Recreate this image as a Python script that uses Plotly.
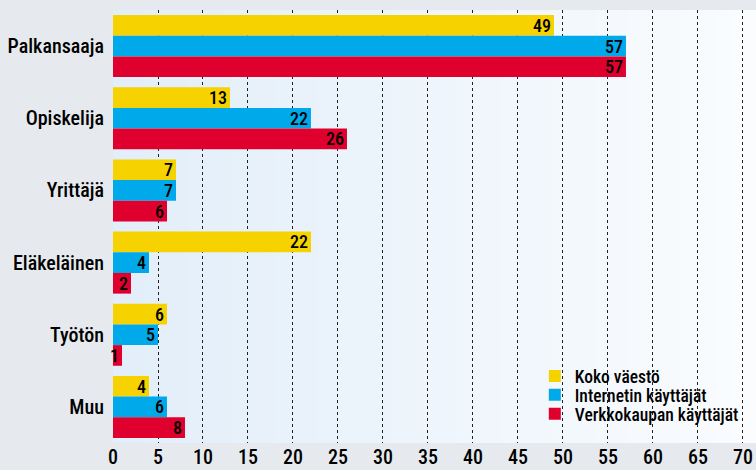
import plotly.graph_objects as go

categories = ["Palkansaaja", "Opiskelija", "Yrittäjä", "Eläkeläinen", "Työtön", "Muu"]
series_names = ["Koko väestö", "Internetin käyttäjät", "Verkkokaupan käyttäjät"]
koko_vaesto = [49, 13, 7, 22, 6, 4]
internetin_kayttajat = [57, 22, 7, 4, 5, 6]
verkkokaupan_kayttajat = [57, 26, 6, 2, 1, 8]
x_ticks = list(range(0, 75, 5))

colors = ["#f5d200", "#00a9ea", "#e0002d"]
legend_ids = ["legend", "legend2", "legend3"]
legend_y = [0.1547, 0.1109, 0.0670]
FONT = "Roboto Condensed, sans-serif"
W = 500

fig = go.Figure()
for name, vals, col, lid in zip(series_names, [koko_vaesto, internetin_kayttajat, verkkokaupan_kayttajat], colors, legend_ids):
    fig.add_trace(go.Bar(
        y=categories, x=vals, name=name, orientation="h", legend=lid,
        marker=dict(color=col, line=dict(width=0)),
        text=[str(v) for v in vals], textposition="inside", insidetextanchor="end",
        textangle=0,
        textfont=dict(color="black", size=18, family=FONT, weight=W),
        cliponaxis=False,
    ))

# horizontal gradient background behind grid
n = 60
c0 = (226, 238, 249)
c1 = (250, 252, 254)
shapes = []
for i in range(n):
    t = i / (n - 1)
    c = tuple(round(c0[k] + (c1[k] - c0[k]) * t) for k in range(3))
    shapes.append(dict(type="rect", xref="x domain", yref="y domain",
                       x0=i / n, x1=(i + 1) / n + 0.002, y0=0, y1=1,
                       fillcolor="rgb(%d,%d,%d)" % c, line=dict(width=0), layer="below"))

legend_common = dict(x=0.656, xanchor="left", yanchor="middle", bgcolor="rgba(0,0,0,0)",
                     font=dict(size=17.5, family=FONT, weight=W), itemwidth=30,
                     borderwidth=0)

fig.update_layout(
    width=756, height=470,
    margin=dict(l=113, r=0, t=10, b=27),
    paper_bgcolor="#e6eaee",
    plot_bgcolor="rgba(0,0,0,0)",
    barmode="group", bargap=0.14, bargroupgap=0,
    shapes=shapes,
    font=dict(family=FONT, color="black", weight=W),
    uniformtext=dict(minsize=18, mode="show"),
    showlegend=True,
    legend=dict(y=legend_y[0], **legend_common),
    legend2=dict(y=legend_y[1], **legend_common),
    legend3=dict(y=legend_y[2], **legend_common),
    xaxis=dict(range=[0, 71.45], tickvals=x_ticks, ticktext=[str(v) for v in x_ticks],
               showgrid=True, gridcolor="#222", griddash="dot", gridwidth=1,
               zeroline=False, showline=False, ticks="", automargin=False,
               tickfont=dict(size=20, family=FONT, weight=W), ticklabelstandoff=0),
    yaxis=dict(autorange="reversed", showgrid=False, zeroline=False, showline=False,
               ticks="", automargin=False, tickfont=dict(size=20, family=FONT, weight=W),
               ticklabelstandoff=8),
)

fig.write_html("out.html", config={"displayModeBar": False},
               post_script="document.body.style.margin='0';document.body.style.overflow='hidden';")
